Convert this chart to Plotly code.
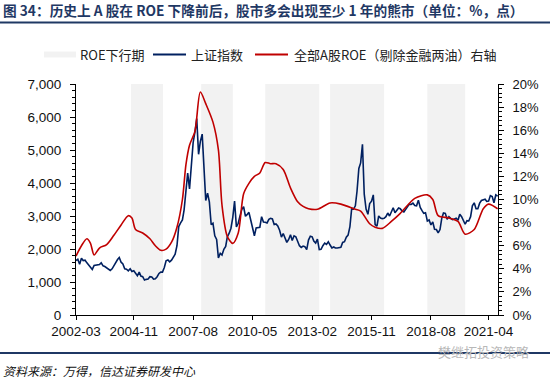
import plotly.graph_objects as go

# ---------------- data ----------------
months = []
for y in range(2002, 2022):
    for m in range(1, 13):
        if (y == 2002 and m < 3) or (y == 2021 and m > 9):
            continue
        months.append(f"{y}-{m:02d}")

sh_index = [
    # 2002 Mar-Dec
    1650, 1690, 1540, 1720, 1650, 1660, 1580, 1510, 1440, 1380,
    # 2003
    1500, 1510, 1520, 1530, 1580, 1490, 1470, 1420, 1370, 1350, 1400, 1500,
    # 2004
    1600, 1680, 1740, 1600, 1550, 1400, 1390, 1340, 1400, 1320, 1340, 1270,
    # 2005
    1190, 1300, 1180, 1160, 1060, 1080, 1090, 1160, 1150, 1090, 1100, 1160,
    # 2006
    1260, 1300, 1300, 1440, 1640, 1670, 1610, 1660, 1750, 1840, 2100, 2680,
    # 2007
    2790, 2880, 3180, 3840, 4300, 3820, 4470, 5220, 5550, 5950, 4870, 5260,
    # 2008
    5480, 4350, 3470, 3690, 3430, 2740, 2780, 2400, 2290, 1730, 1870, 1820,
    # 2009
    1990, 2080, 2370, 2480, 2630, 2960, 3450, 2670, 2780, 3000, 3200, 3280,
    # 2010
    2990, 3050, 3110, 2870, 2590, 2400, 2640, 2640, 2660, 2980, 2820, 2810,
    # 2011
    2790, 2900, 2930, 2910, 2740, 2760, 2700, 2570, 2360, 2470, 2330, 2200,
    # 2012
    2290, 2430, 2260, 2400, 2370, 2230, 2100, 2050, 2090, 2070, 1980, 2270,
    # 2013
    2390, 2370, 2240, 2180, 2300, 1980, 1990, 2100, 2180, 2140, 2220, 2120,
    # 2014
    2030, 2060, 2030, 2030, 2040, 2050, 2200, 2220, 2360, 2420, 2680, 3230,
    # 2015
    3210, 3310, 3750, 4440, 4610, 5170, 3660, 3210, 3050, 3380, 3450, 3640,
    # 2016
    2740, 2690, 3000, 2940, 2920, 2930, 2980, 3090, 3000, 3100, 3250, 3100,
    # 2017
    3160, 3240, 3220, 3150, 3120, 3190, 3270, 3360, 3350, 3390, 3320, 3310,
    # 2018
    3480, 3260, 3170, 3080, 3100, 2850, 2880, 2730, 2820, 2600, 2590, 2490,
    # 2019
    2590, 2940, 3090, 3080, 2900, 2980, 2930, 2890, 2910, 2930, 2870, 3050,
    # 2020
    2980, 2880, 2750, 2860, 2850, 2980, 3310, 3400, 3220, 3220, 3390, 3470,
    # 2021 Jan-Sep
    3480, 3510, 3440, 3450, 3620, 3590, 3400, 3640, 3600,
]

roe_dates = [
    "2002-03", "2002-06", "2002-09", "2002-11", "2003-01", "2003-04", "2003-08",
    "2003-12", "2004-04", "2004-08", "2004-10", "2004-12", "2005-04", "2005-08",
    "2005-11", "2006-02", "2006-05", "2006-08", "2006-11", "2007-02", "2007-04",
    "2007-06", "2007-09", "2007-12", "2008-03", "2008-07", "2008-10", "2008-12",
    "2009-03", "2009-06", "2009-09", "2009-12", "2010-03", "2010-06", "2010-09",
    "2010-12", "2011-03", "2011-06", "2011-10", "2012-02", "2012-06", "2012-09",
    "2012-12", "2013-05", "2013-12", "2014-06", "2015-02", "2015-05", "2015-10",
    "2016-01", "2016-05", "2016-10", "2017-03", "2017-11", "2018-06", "2018-09",
    "2018-12", "2019-06", "2019-11", "2020-03", "2020-08", "2021-01", "2021-04",
    "2021-09",
]
roe_values = [
    5.1, 6.0, 6.6, 6.2, 5.2, 5.8, 6.1,
    6.9, 7.8, 8.6, 8.4, 7.4, 7.1, 6.6,
    6.0, 5.6, 5.7, 6.3, 7.6, 10.0, 13.0,
    14.7, 15.9, 19.3, 18.3, 16.7, 14.3, 9.5,
    6.8, 6.2, 7.1, 10.5, 11.4, 12.0, 12.3,
    13.2, 13.1, 13.1, 12.6, 11.0, 9.8, 9.4,
    9.2, 9.15, 9.7, 9.6, 9.15, 9.0, 7.9,
    7.6, 7.5, 8.1, 8.8, 10.1, 10.4, 10.0,
    8.6, 8.4, 8.1, 7.0, 7.4, 9.2, 9.6,
    9.2,
]

down_starts = ["2004-09-15", "2007-12-15", "2010-12-01", "2013-12-01", "2018-06-01"]
down_ends = ["2006-03-10", "2009-06-01", "2013-06-01", "2016-06-01", "2020-03-01"]

tick_dates = ["2002-03-01", "2004-11-01", "2007-08-01", "2010-05-01",
              "2013-02-01", "2015-11-01", "2018-08-01", "2021-04-01"]
tick_labels = ["2002-03", "2004-11", "2007-08", "2010-05",
               "2013-02", "2015-11", "2018-08", "2021-04"]

left_ticks = [0, 1000, 2000, 3000, 4000, 5000, 6000, 7000]
right_ticks = [0, 2, 4, 6, 8, 10, 12, 14, 16, 18, 20]

title_text = "图 34：历史上 A 股在 ROE 下降前后，股市多会出现至少 1 年的熊市（单位：%，点）"
legend_names = ["ROE下行期", "上证指数", "全部A股ROE（剔除金融两油）右轴"]
source_text = "资料来源：万得，信达证券研发中心"
watermark_text = "樊继拓投资策略"

# ---------------- styles ----------------
W, H = 550, 379
PLOT_L, PLOT_R, PLOT_T, PLOT_B = 76, 498, 84, 315
NAVY = "#1F3864"
BLUE = "#002060"
RED = "#C00000"
SHADE = "#F2F2F2"
CJK = "Noto Sans CJK SC"
NUM = "Liberation Sans, Arial, " + CJK


def px(x):
    return x / W


def py(y):
    return 1 - y / H


fig = go.Figure()

fig.add_trace(go.Scatter(
    x=months, y=sh_index, mode="lines", name=legend_names[1],
    line=dict(color=BLUE, width=1.6), showlegend=False, yaxis="y",
))
fig.add_trace(go.Scatter(
    x=roe_dates, y=roe_values, mode="lines", name=legend_names[2],
    line=dict(color=RED, width=1.6, shape="spline", smoothing=0.8),
    showlegend=False, yaxis="y2",
))

# page rules (title underline / footer line) on a full-page overlay axis pair
for yy in (22.5, 353):
    fig.add_trace(go.Scatter(
        x=[0, W], y=[yy, yy], mode="lines", xaxis="x2", yaxis="y3",
        line=dict(color=NAVY, width=2), hoverinfo="skip", showlegend=False,
        cliponaxis=False,
    ))

shapes = []
for s, e in zip(down_starts, down_ends):
    shapes.append(dict(type="rect", xref="x", yref="y domain", x0=s, x1=e, y0=0, y1=1,
                       fillcolor=SHADE, line=dict(width=0), layer="below"))

# legend symbols
shapes.append(dict(type="rect", xref="paper", yref="paper", x0=px(44), x1=px(76),
                   y0=py(57.5), y1=py(51.5), fillcolor=SHADE, line=dict(width=0)))
shapes.append(dict(type="line", xref="paper", yref="paper", x0=px(153), x1=px(186),
                   y0=py(54.5), y1=py(54.5), line=dict(color=BLUE, width=1.8)))
shapes.append(dict(type="line", xref="paper", yref="paper", x0=px(255), x1=px(288),
                   y0=py(54.5), y1=py(54.5), line=dict(color=RED, width=1.8)))

annotations = [
    dict(text="<b>" + title_text + "</b>", xref="paper", yref="paper", x=px(1), y=py(10),
         xanchor="left", yanchor="middle", showarrow=False,
         font=dict(family=CJK, size=13.7, color=NAVY)),
    dict(text=legend_names[0], xref="paper", yref="paper", x=px(78), y=py(55),
         xanchor="left", yanchor="middle", showarrow=False,
         font=dict(family=CJK, size=13, color="#222222")),
    dict(text=legend_names[1], xref="paper", yref="paper", x=px(189), y=py(55),
         xanchor="left", yanchor="middle", showarrow=False,
         font=dict(family=CJK, size=13, color="#222222")),
    dict(text=legend_names[2], xref="paper", yref="paper", x=px(292), y=py(55),
         xanchor="left", yanchor="middle", showarrow=False,
         font=dict(family=CJK, size=13, color="#222222")),
    dict(text="<i>" + source_text + "</i>", xref="paper", yref="paper", x=px(1), y=py(370),
         xanchor="left", yanchor="middle", showarrow=False,
         font=dict(family=CJK, size=12, color="#111111")),
    dict(text=watermark_text, xref="paper", yref="paper", x=px(436), y=py(351),
         xanchor="left", yanchor="middle", showarrow=False,
         font=dict(family=CJK, size=13, color="#B8B8B8")),
]

fig.update_layout(
    width=W, height=H, autosize=False,
    margin=dict(l=0, r=0, t=0, b=0, pad=0),
    paper_bgcolor="white", plot_bgcolor="rgba(0,0,0,0)",
    showlegend=False,
    shapes=shapes, annotations=annotations,
    xaxis=dict(
        domain=[PLOT_L / W, PLOT_R / W],
        type="date", range=["2002-03-01", "2021-09-07"],
        tickvals=tick_dates, ticktext=tick_labels,
        showline=True, linecolor="black", linewidth=1,
        ticks="outside", ticklen=4, tickcolor="black",
        showgrid=False, zeroline=False, automargin=False,
        tickfont=dict(family=NUM, size=13.5, color="#111111"),
    ),
    yaxis=dict(
        domain=[1 - PLOT_B / H, 1 - PLOT_T / H],
        range=[0, 7000], tickvals=left_ticks,
        ticktext=[f"{v:,}" for v in left_ticks],
        showline=True, linecolor="black", linewidth=1,
        ticks="outside", ticklen=5, tickcolor="black",
        minor=dict(ticks="outside", ticklen=3, dtick=200, tickcolor="black"),
        showgrid=False, zeroline=False, ticklabelstandoff=6, automargin=False,
        tickfont=dict(family=NUM, size=13.5, color="#111111"),
    ),
    yaxis2=dict(
        range=[0, 20], tickvals=right_ticks,
        ticktext=[f"{v}%" for v in right_ticks],
        overlaying="y", side="right", anchor="x",
        showline=True, linecolor="black", linewidth=1,
        ticks="outside", ticklen=5, tickcolor="black",
        minor=dict(ticks="outside", ticklen=3, dtick=0.4, tickcolor="black"),
        showgrid=False, zeroline=False, ticklabelstandoff=6, automargin=False,
        tickfont=dict(family=NUM, size=13, color="#111111"),
    ),
    xaxis2=dict(domain=[0, 1], range=[0, W], visible=False, anchor="y3",
                fixedrange=True),
    yaxis3=dict(domain=[0, 1], range=[H, 0], visible=False, anchor="x2",
                fixedrange=True),
)

fig.write_html(
    "out.html",
    config={"displayModeBar": False},
    post_script="document.body.style.margin='0';document.body.style.padding='0';"
                "document.documentElement.style.overflow='hidden';",
)
